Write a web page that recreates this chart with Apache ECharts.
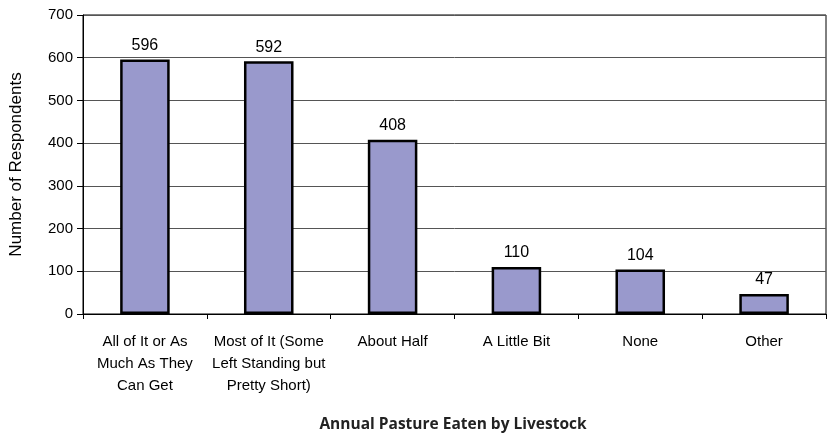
<!DOCTYPE html>
<html>
<head>
<meta charset="utf-8">
<script src="https://cdn.jsdelivr.net/npm/echarts@6/dist/echarts.min.js"></script>
<style>
  html, body { margin: 0; padding: 0; background: #fff; }
  #chart { width: 832px; height: 441px; }
</style>
</head>
<body>
<div id="chart"></div>
<script>
const categories = [
  'All of It or As\nMuch As They\nCan Get',
  'Most of It (Some\nLeft Standing but\nPretty Short)',
  'About Half',
  'A Little Bit',
  'None',
  'Other'
];
const respondents = [596, 592, 408, 110, 104, 47];
const yTicks = [0, 100, 200, 300, 400, 500, 600, 700];

const chart = echarts.init(document.getElementById('chart'));
chart.setOption({
  animation: false,
  backgroundColor: '#ffffff',
  title: {
    text: 'Annual Pasture Eaten by Livestock',
    left: 448,
    top: 412,
    textAlign: 'center',
    textStyle: {
      fontFamily: '"Open Sans", sans-serif',
      fontWeight: 'bold',
      fontSize: 15.5,
      color: '#222'
    }
  },
  grid: {
    left: 83, right: 6, top: 15, bottom: 127,
    show: true,
    borderColor: '#000',
    borderWidth: 1,
    backgroundColor: 'transparent'
  },
  xAxis: {
    type: 'category',
    data: categories,
    axisLine: { lineStyle: { color: '#000', width: 1 } },
    axisTick: { show: true, length: 5, alignWithLabel: false, lineStyle: { color: '#000' } },
    axisLabel: {
      interval: 0,
      margin: 17,
      fontFamily: 'Arial, "Liberation Sans", sans-serif',
      fontSize: 15,
      lineHeight: 22,
      color: '#000'
    }
  },
  yAxis: {
    type: 'value',
    min: yTicks[0],
    max: yTicks[yTicks.length - 1],
    interval: 100,
    name: 'Number of Respondents',
    nameLocation: 'middle',
    nameGap: 58,
    nameRotate: 90,
    nameTextStyle: {
      fontFamily: 'Arial, "Liberation Sans", sans-serif',
      fontSize: 17,
      color: '#000'
    },
    axisLine: { show: true, lineStyle: { color: '#000', width: 1 } },
    axisTick: { show: true, length: 6, lineStyle: { color: '#000' } },
    axisLabel: {
      margin: 10,
      fontFamily: 'Arial, "Liberation Sans", sans-serif',
      fontSize: 15,
      color: '#000'
    },
    splitLine: { show: true, lineStyle: { color: '#555', width: 1 } }
  },
  series: [{
    type: 'bar',
    data: respondents,
    barWidth: '40%',
    itemStyle: {
      color: '#9999cc',
      borderColor: '#000',
      borderWidth: 2.5
    },
    label: {
      show: true,
      position: 'top',
      distance: 6,
      fontFamily: 'Arial, "Liberation Sans", sans-serif',
      fontSize: 16,
      color: '#000'
    }
  }]
});
</script>
</body>
</html>
